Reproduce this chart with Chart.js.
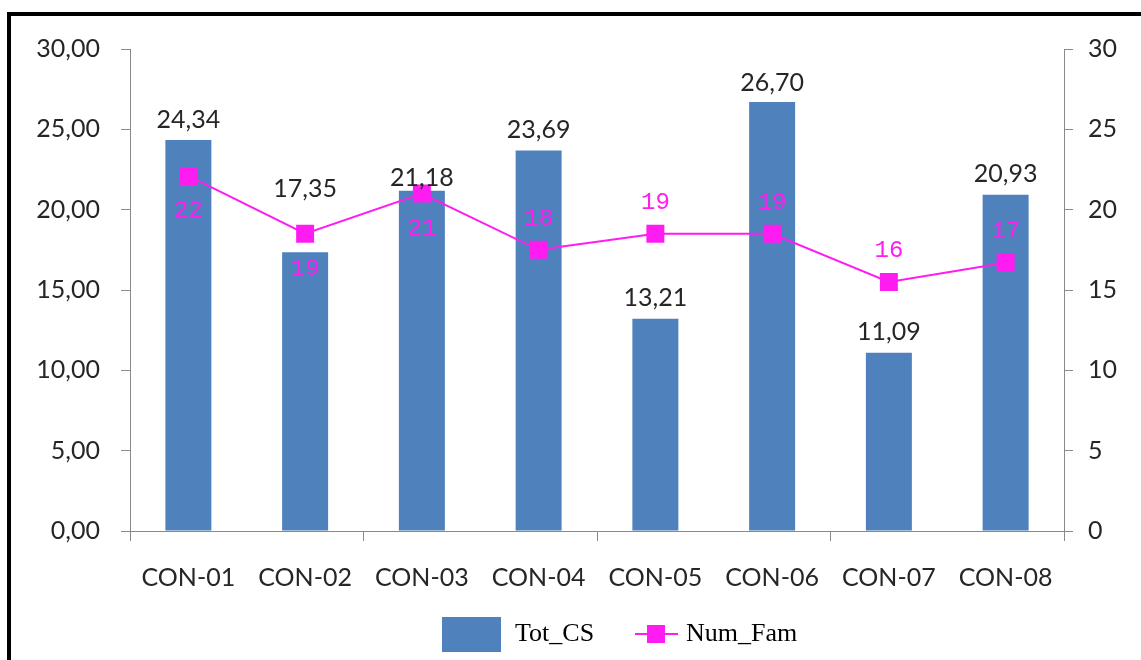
<!DOCTYPE html>
<html>
<head>
<meta charset="utf-8">
<script src="https://cdn.jsdelivr.net/npm/chart.js@4.4.0/dist/chart.umd.min.js"></script>
<style>
html, body { margin: 0; padding: 0; background: #fff; overflow: hidden; }
#wrap { position: relative; width: 1141px; height: 660px; }
#frame { position: absolute; left: 7px; top: 12px; width: 1300px; height: 800px;
         border-left: 4px solid #000; border-top: 4px solid #000; }
canvas { position: absolute; left: 0; top: 0; }
</style>
</head>
<body>
<div id="wrap">
  <div id="frame"></div>
  <canvas id="chart" width="1141" height="660"></canvas>
</div>
<script>
const categories = ['CON-01', 'CON-02', 'CON-03', 'CON-04', 'CON-05', 'CON-06', 'CON-07', 'CON-08'];
const totCS = [24.34, 17.35, 21.18, 23.69, 13.21, 26.70, 11.09, 20.93];
const numFam = [22.1, 18.5, 21.0, 17.5, 18.5, 18.5, 15.5, 16.7];
const seriesNames = ['Tot_CS', 'Num_Fam'];

const barColor = '#4f81bd';
const lineColor = '#ff1cf0';
const axisColor = '#898989';
const textColor = '#262626';

// labels were moved by hand in the original, so keep per-label shifts here
const barLabelShift = [-20, -63, -13, -20, -21, -19, -21, -21];
const lineLabelShift = [35, 35, 35, -31, -31, -31, -31, -31];

const labelPlugin = {
    id: 'valueLabels',
    afterDatasetsDraw(chart) {
        const ctx = chart.ctx;
        ctx.save();
        ctx.textAlign = 'center';
        ctx.textBaseline = 'middle';

        // dataset 1 = bars
        ctx.font = '25px Lato';
        ctx.fillStyle = textColor;
        chart.getDatasetMeta(1).data.forEach((bar, i) => {
            ctx.fillText(totCS[i].toFixed(2).replace('.', ','), bar.x, bar.y + barLabelShift[i]);
        });

        // dataset 0 = line
        ctx.font = '24px "Liberation Mono"';
        ctx.fillStyle = lineColor;
        chart.getDatasetMeta(0).data.forEach((p, i) => {
            ctx.fillText(String(Math.round(numFam[i])), p.x, p.y + lineLabelShift[i]);
        });
        ctx.restore();
    },
    afterDraw(chart) {
        const ctx = chart.ctx;
        const y = 634;
        ctx.save();
        ctx.fillStyle = barColor;
        ctx.fillRect(442, 617, 59, 35);

        ctx.strokeStyle = lineColor;
        ctx.lineWidth = 2;
        ctx.beginPath();
        ctx.moveTo(635, y);
        ctx.lineTo(678, y);
        ctx.stroke();
        ctx.fillStyle = lineColor;
        ctx.fillRect(647, y - 9, 18, 18);

        ctx.font = '26px "Liberation Serif"';
        ctx.fillStyle = '#000';
        ctx.textBaseline = 'middle';
        ctx.textAlign = 'left';
        ctx.fillText(seriesNames[0], 515, y);
        ctx.fillText(seriesNames[1], 686, y);
        ctx.restore();
    }
};

new Chart(document.getElementById('chart'), {
    type: 'bar',
    data: {
        labels: categories,
        datasets: [
            {
                type: 'line',
                label: seriesNames[1],
                data: numFam,
                yAxisID: 'y1',
                borderColor: lineColor,
                backgroundColor: lineColor,
                borderWidth: 2,
                pointStyle: 'rect',
                pointRadius: 12.7,
                pointHoverRadius: 12.7,
                pointBorderWidth: 0,
                tension: 0,
                order: 0
            },
            {
                label: seriesNames[0],
                data: totCS,
                yAxisID: 'y',
                backgroundColor: barColor,
                borderWidth: 0,
                categoryPercentage: 1,
                barPercentage: 0.394,
                order: 1
            }
        ]
    },
    options: {
        responsive: false,
        animation: false,
        layout: { padding: { top: 49, left: 0, right: 0, bottom: 0 } },
        scales: {
            x: {
                afterFit: s => { s.height = 129; },
                grid: {
                    offset: true,
                    drawOnChartArea: false,
                    drawTicks: true,
                    tickLength: 10,
                    color: c => (c.index === undefined || c.index % 2 === 0) ? axisColor : 'rgba(0,0,0,0)'
                },
                border: { color: axisColor },
                ticks: {
                    color: textColor,
                    font: { family: 'Lato', size: 25 },
                    padding: 22,
                    maxRotation: 0
                }
            },
            y: {
                position: 'left',
                min: 0,
                max: 30,
                afterFit: s => { s.width = 130; },
                grid: { drawOnChartArea: false, drawTicks: true, tickLength: 9, color: axisColor },
                border: { color: axisColor },
                ticks: {
                    stepSize: 5,
                    color: textColor,
                    font: { family: 'Lato', size: 25 },
                    padding: 21,
                    callback: v => v.toFixed(2).replace('.', ',')
                }
            },
            y1: {
                position: 'right',
                min: 0,
                max: 30,
                afterFit: s => { s.width = 77; },
                grid: { drawOnChartArea: false, drawTicks: true, tickLength: 9, color: axisColor },
                border: { color: axisColor },
                ticks: {
                    stepSize: 5,
                    color: textColor,
                    font: { family: 'Lato', size: 25 },
                    padding: 15
                }
            }
        },
        plugins: {
            legend: { display: false },
            tooltip: { enabled: false },
            title: { display: false }
        }
    },
    plugins: [labelPlugin]
});
</script>
</body>
</html>
